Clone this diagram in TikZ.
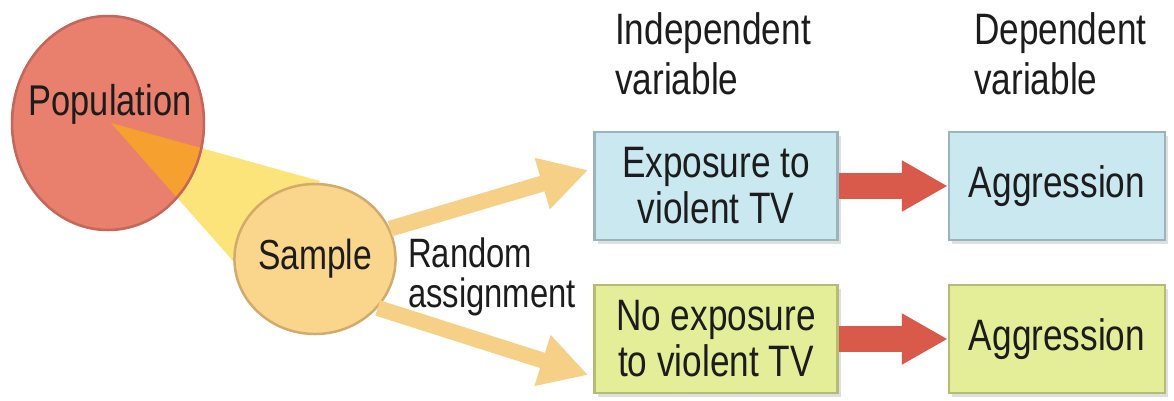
\documentclass[tikz,border=0pt]{standalone}
\usepackage{xcolor}
\usepackage{fontspec}
\setmainfont[FakeStretch=0.8]{Liberation Sans}
\usepackage{tikz}
\usetikzlibrary{shapes,arrows.meta,positioning,calc,shadows}

\definecolor{popred}{HTML}{E8806D}
\definecolor{popedge}{HTML}{C4675A}
\definecolor{wedgeorange}{HTML}{F6A030}
\definecolor{beamyellow}{HTML}{FCE47A}
\definecolor{samplefill}{HTML}{FAD68C}
\definecolor{sampleedge}{HTML}{D2AA6C}
\definecolor{arrowyellow}{HTML}{F7D088}
\definecolor{arrowred}{HTML}{D9594A}
\definecolor{boxblue}{HTML}{C9E8F0}
\definecolor{blueedge}{HTML}{9BB4BC}
\definecolor{boxgreen}{HTML}{E4EE98}
\definecolor{greenedge}{HTML}{B6BC74}
\definecolor{txt}{HTML}{1C1C1C}

\begin{document}
\begin{tikzpicture}[x=1pt,y=-1pt,
    bigtext/.style={text=txt, font=\fontsize{44}{46}\selectfont},
    condbox/.style={bigtext, rectangle, align=center, minimum height=108pt, line width=2.5pt,
        drop shadow={shadow xshift=3pt, shadow yshift=-4pt, opacity=0.25}},
    ivbox/.style={condbox, minimum width=243pt},
    dvbox/.style={condbox, minimum width=216pt},
    header/.style={text=txt, font=\fontsize{44}{50}\selectfont, align=left, anchor=west, inner sep=0pt},
    fatarrow/.style={-{Triangle[length=48pt,width=50pt]}, line width=16pt, arrowyellow},
    redarrow/.style={-{Triangle[length=46pt,width=48pt]}, line width=26pt, arrowred}
]
    \useasboundingbox (0,0) rectangle (1174,400);

    % Beam from population to sample
    \coordinate (apex) at (111,123);
    \fill[beamyellow] (apex) -- (320,181) -- (249,279) -- cycle;

    % Population
    \node[ellipse, fill=popred, minimum width=194pt, minimum height=216pt, inner sep=0pt] (pop) at (108,123) {};
    \begin{scope}
        \clip (108,123) ellipse [x radius=97, y radius=108];
        \fill[wedgeorange] (apex) -- (320,181) -- (249,279) -- cycle;
    \end{scope}
    \draw[popedge, line width=2.5pt] (108,123) ellipse [x radius=96, y radius=107];
    \node[bigtext, anchor=base, font=\fontsize{43}{46}\selectfont] (poplabel) at (110,115) {Population};

    % Sample
    \node[ellipse, bigtext, font=\fontsize{42}{46}\selectfont, fill=samplefill, draw=sampleedge, line width=2.5pt,
        minimum width=132pt, minimum height=150pt, inner sep=0pt] (sample) at (315,259) {Sample};

    % Conditions
    \node[ivbox, fill=boxblue, draw=blueedge] (expo) at (716,186) {Exposure to\\violent TV};
    \node[dvbox, fill=boxblue, draw=blueedge] (aggr1) at (1057,186) {Aggression};
    \node[ivbox, fill=boxgreen, draw=greenedge] (noexpo) at (716,339) {No exposure\\to violent TV};
    \node[dvbox, fill=boxgreen, draw=greenedge] (aggr2) at (1057,339) {Aggression};

    % Labels
    \node[header] (ivlabel) at (615,54) {Independent\\variable};
    \node[header] (dvlabel) at (974,54) {Dependent\\variable};
    \node[header, font=\fontsize{41}{40}\selectfont] (randlabel) at (408,277) {Random\\assignment};

    % Random assignment arrows
    \draw[fatarrow] (sample.22) -- ($(expo.west)+(-5,-16)$);
    \draw[fatarrow] (sample.-38) -- ($(noexpo.west)+(-5,36)$);

    % Effect arrows
    \draw[redarrow] (expo.east) -- (aggr1.west);
    \draw[redarrow] (noexpo.east) -- (aggr2.west);
\end{tikzpicture}
\end{document}
